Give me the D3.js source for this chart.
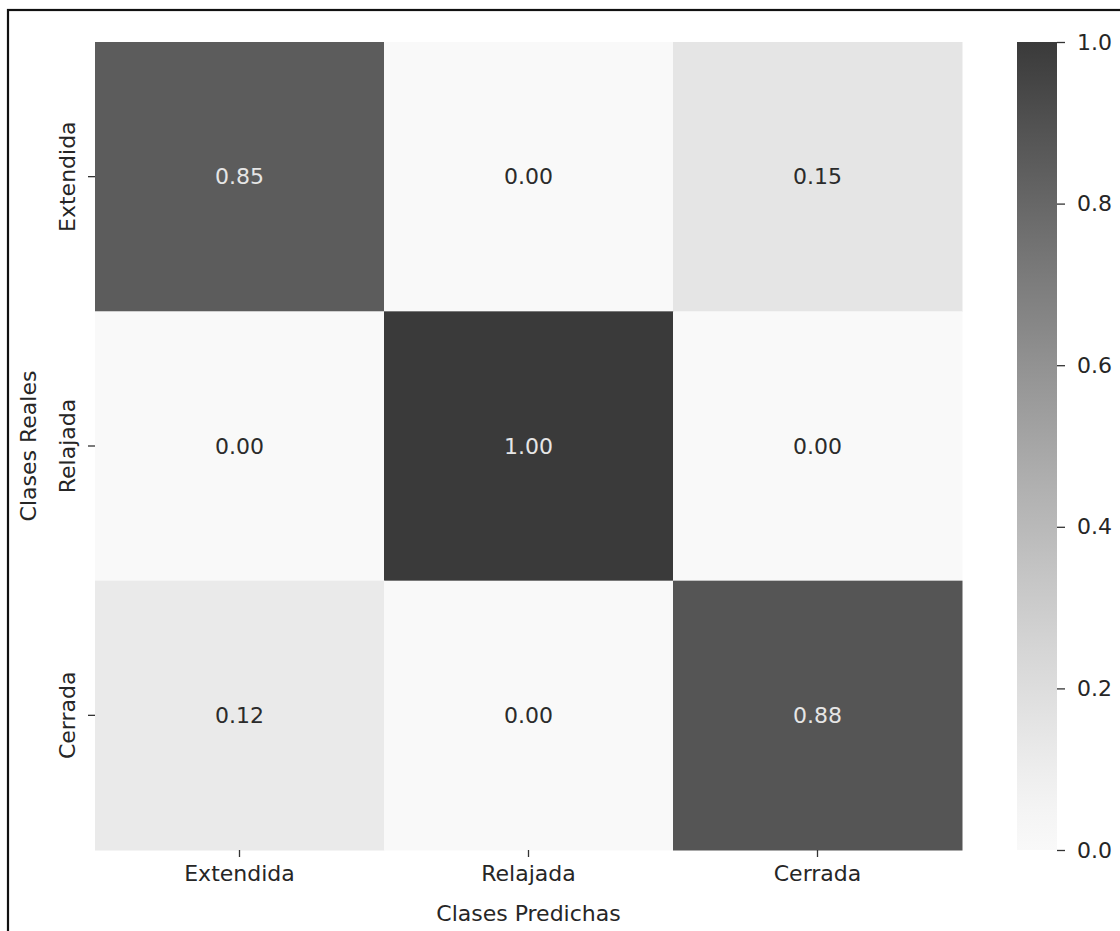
<!DOCTYPE html>
<html>
<head>
<meta charset="utf-8">
<script src="https://cdn.jsdelivr.net/npm/d3@7"></script>
<style>
  html, body { margin: 0; padding: 0; background: #fff; }
  svg { display: block; font-family: "DejaVu Sans", sans-serif; }
</style>
</head>
<body>
<svg id="chart" width="1120" height="931"></svg>
<script>
// Confusion matrix (row-normalised): rows = true class, columns = predicted class
const classes = ["Extendida", "Relajada", "Cerrada"];
const rowExtendida = [0.85, 0.00, 0.15];
const rowRelajada  = [0.00, 1.00, 0.00];
const rowCerrada   = [0.12, 0.00, 0.88];
const colorbarTicks = [0.0, 0.2, 0.4, 0.6, 0.8, 1.0];
const xTitle = "Clases Predichas";
const yTitle = "Clases Reales";

const rows = [rowExtendida, rowRelajada, rowCerrada];
const cells = [];
rows.forEach((r, i) => r.forEach((v, j) => cells.push({ row: classes[i], col: classes[j], value: v })));

const svg = d3.select("#chart");

// outer frame
svg.append("rect")
  .attr("x", 8).attr("y", 10)
  .attr("width", 1130).attr("height", 940)
  .attr("fill", "none").attr("stroke", "#111").attr("stroke-width", 2.2);

const plot = { left: 95, top: 42, right: 962, bottom: 850 };

const x = d3.scaleBand().domain(classes).range([plot.left, plot.right]).padding(0);
const y = d3.scaleBand().domain(classes).range([plot.top, plot.bottom]).padding(0);

const shade = d3.scalePow().exponent(1.2).domain([0, 1]).range([0, 1]);
const grey = d3.interpolateRgb("#f9f9f9", "#3a3a3a");
const color = v => grey(shade(v));

// cells
svg.append("g").selectAll("rect")
  .data(cells).join("rect")
  .attr("x", d => x(d.col))
  .attr("y", d => y(d.row))
  .attr("width", x.bandwidth() + 0.5)
  .attr("height", y.bandwidth() + 0.5)
  .attr("fill", d => color(d.value));

// annotations
svg.append("g").selectAll("text")
  .data(cells).join("text")
  .attr("x", d => x(d.col) + x.bandwidth() / 2)
  .attr("y", d => y(d.row) + y.bandwidth() / 2)
  .attr("text-anchor", "middle")
  .attr("dominant-baseline", "central")
  .attr("font-size", 22)
  .attr("fill", d => d.value > 0.5 ? "#e6e6e6" : "#2b2b2b")
  .text(d => d.value.toFixed(2));

// axes
const xAxis = svg.append("g")
  .attr("transform", `translate(0,${plot.bottom})`)
  .call(d3.axisBottom(x).tickSize(7).tickPadding(8));
xAxis.select(".domain").remove();
xAxis.selectAll("line").attr("stroke", "#333").attr("stroke-width", 1.3);
xAxis.selectAll("text").attr("font-size", 22).attr("fill", "#262626")
  .attr("font-family", "DejaVu Sans, sans-serif");

const yAxis = svg.append("g")
  .attr("transform", `translate(${plot.left},0)`)
  .call(d3.axisLeft(y).tickSize(7).tickPadding(8));
yAxis.select(".domain").remove();
yAxis.selectAll("line").attr("stroke", "#333").attr("stroke-width", 1.3);
yAxis.selectAll("text")
  .attr("font-size", 22).attr("fill", "#262626")
  .attr("font-family", "DejaVu Sans, sans-serif")
  .attr("x", null).attr("dy", null)
  .attr("text-anchor", "middle")
  .attr("transform", "translate(-20,0) rotate(-90)")
  .attr("dominant-baseline", "auto")
  .attr("y", 0);

// axis titles
svg.append("text")
  .attr("x", (plot.left + plot.right) / 2).attr("y", 921)
  .attr("text-anchor", "middle").attr("font-size", 22).attr("fill", "#262626")
  .text(xTitle);
svg.append("text")
  .attr("transform", `translate(36,${(plot.top + plot.bottom) / 2}) rotate(-90)`)
  .attr("text-anchor", "middle").attr("font-size", 22).attr("fill", "#262626")
  .text(yTitle);

// colorbar
const cb = { left: 1017, width: 40 };
const cbScale = d3.scaleLinear().domain([0, 1]).range([plot.bottom, plot.top]);
const grad = svg.append("defs").append("linearGradient")
  .attr("id", "cbGrad").attr("x1", 0).attr("y1", 1).attr("x2", 0).attr("y2", 0);
d3.range(0, 1.0001, 0.05).forEach(t => {
  grad.append("stop").attr("offset", t).attr("stop-color", color(t));
});
svg.append("rect")
  .attr("x", cb.left).attr("y", plot.top)
  .attr("width", cb.width).attr("height", plot.bottom - plot.top)
  .attr("fill", "url(#cbGrad)");

const cbAxis = svg.append("g")
  .attr("transform", `translate(${cb.left + cb.width},0)`)
  .call(d3.axisRight(cbScale).tickValues(colorbarTicks).tickFormat(d3.format(".1f")).tickSize(8).tickPadding(12));
cbAxis.select(".domain").remove();
cbAxis.selectAll("line").attr("stroke", "#333").attr("stroke-width", 1.3);
cbAxis.selectAll("text").attr("font-size", 22).attr("fill", "#262626")
  .attr("font-family", "DejaVu Sans, sans-serif");
</script>
</body>
</html>
